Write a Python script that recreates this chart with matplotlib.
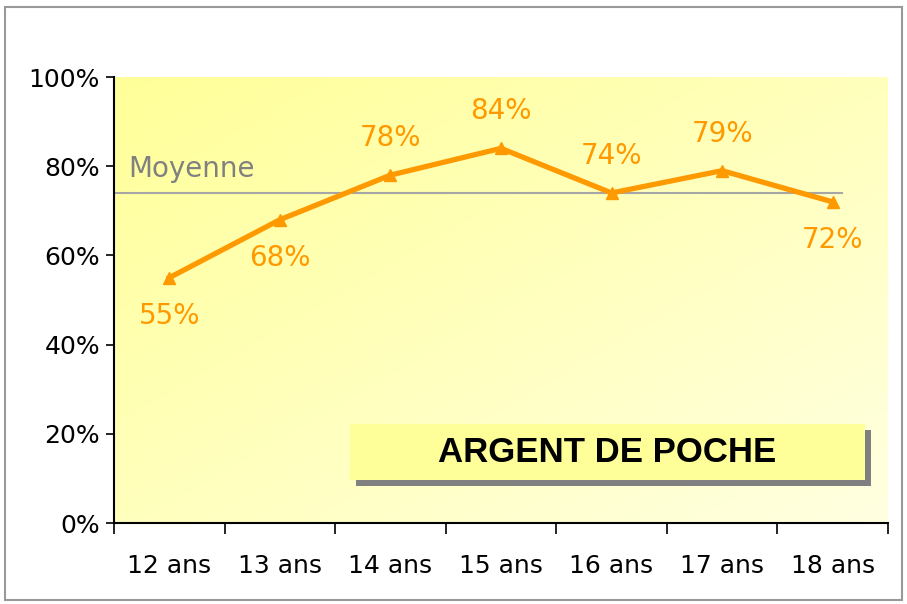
import matplotlib.pyplot as plt
import numpy as np
from matplotlib.patches import Rectangle

# données
categories = ['12 ans', '13 ans', '14 ans', '15 ans', '16 ans', '17 ans', '18 ans']
values = [55, 68, 78, 84, 74, 79, 72]
label_below = [True, True, False, False, False, False, True]
moyenne = 74
yticks = [0, 20, 40, 60, 80, 100]

orange = '#FF9900'

fig = plt.figure(figsize=(9.07, 6.04), dpi=100)
ax = fig.add_axes([0.1257, 0.1341, 0.8533, 0.7384])

x = np.arange(len(categories))
ax.set_xlim(-0.5, len(categories) - 0.5)
ax.set_ylim(0, 100)

# fond dégradé jaune (haut-gauche plus soutenu)
gx, gy = np.meshgrid(np.linspace(0, 1, 200), np.linspace(1, 0, 200))
t = (gx + (1 - gy)) / 2
img = np.ones((200, 200, 3))
img[..., 2] = (153 + t * 72) / 255
ax.imshow(img, extent=(-0.5, len(categories) - 0.5, 0, 100), aspect='auto', zorder=0,
          origin='upper')

# ligne moyenne
ax.plot([-0.48, 6.08], [moyenne, moyenne], color='#A6A6A6', lw=1.5, zorder=2)
ax.text(-0.37, moyenne + 2.2, 'Moyenne', color='#808080', fontsize=20, ha='left',
        va='bottom', family='DejaVu Sans')

# courbe
ax.plot(x, values, color=orange, lw=3.8, marker='^', markersize=9, zorder=3)
for xi, v, below in zip(x, values, label_below):
    dy = -8.5 if below else 8.3
    ax.text(xi, v + dy, f'{v}%', color=orange, fontsize=20, ha='center', va='center',
            family='DejaVu Sans', zorder=4)

# titre dans un cadre avec ombre
ax.add_patch(Rectangle((0.313, 0.083), 0.665, 0.126, transform=ax.transAxes,
                       facecolor='#808080', edgecolor='none', zorder=4))
ax.add_patch(Rectangle((0.305, 0.096), 0.665, 0.126, transform=ax.transAxes,
                       facecolor='#FFFF99', edgecolor='none', zorder=5))
ax.text(0.637, 0.159, 'ARGENT DE POCHE', transform=ax.transAxes, ha='center', va='center',
        fontsize=25, fontweight='bold', family='Liberation Sans', zorder=6)

# axes
ax.set_yticks(yticks)
ax.set_yticklabels([f'{v}%' for v in yticks], fontsize=18)
ax.set_xticks(x)
ax.set_xticklabels(categories, fontsize=18)
ax.set_xticks(np.arange(len(categories) + 1) - 0.5, minor=True)
ax.tick_params(axis='x', which='major', length=0, pad=22)
ax.tick_params(axis='x', which='minor', length=8, width=1.2, direction='out')
ax.tick_params(axis='y', length=6, width=1.2, direction='out', pad=4)
for s in ['top', 'right']:
    ax.spines[s].set_visible(False)
ax.spines['left'].set_linewidth(1.5)
ax.spines['bottom'].set_linewidth(1.5)

# cadre extérieur
fig.patches.append(Rectangle((0.005, 0.007), 0.99, 0.981, transform=fig.transFigure,
                             facecolor='none', edgecolor='#999999', lw=1.5))

fig.savefig('out.png', dpi=100)
